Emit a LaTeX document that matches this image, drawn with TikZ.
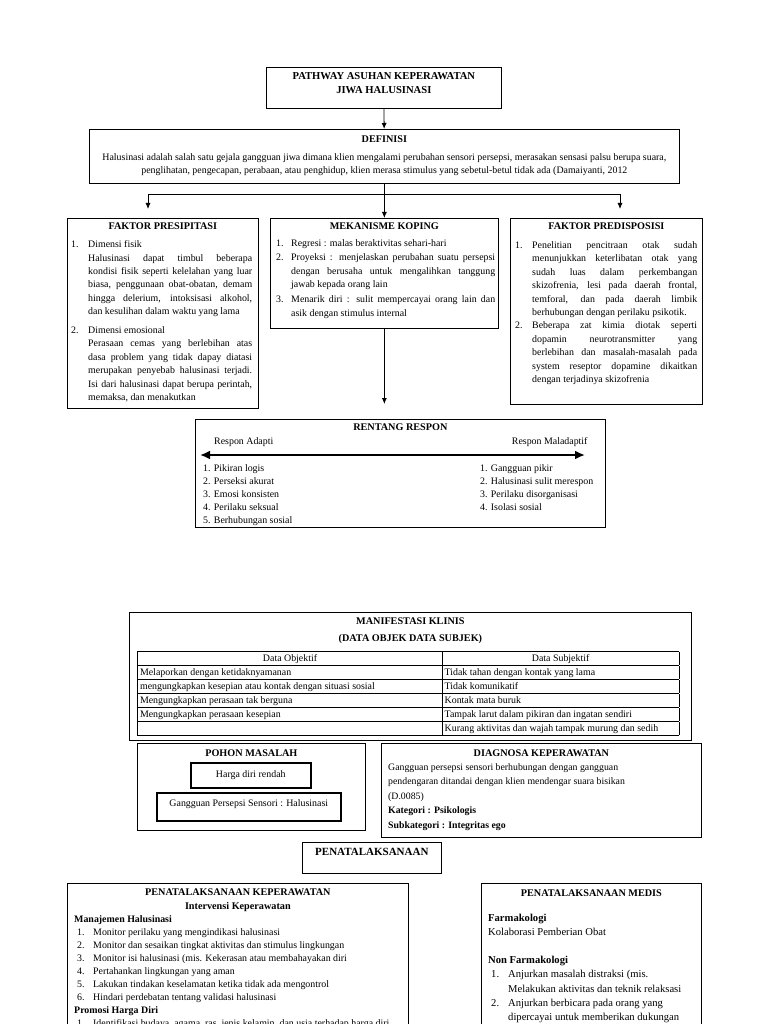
\documentclass[tikz,border=0pt]{standalone}
\usepackage{fontspec}
\setmainfont{Liberation Serif}
\usepackage{array}
\usetikzlibrary{positioning,arrows.meta}

\newcommand{\jl}[2]{\makebox[#1][s]{#2}}
\newcommand{\nm}[2][17pt]{\makebox[#1][l]{#2}}

\begin{document}
\begin{tikzpicture}[x=1pt, y=-1pt, font=\fontsize{9.9}{13.4}\selectfont,
    box/.style={draw, line width=0.7pt, inner sep=0pt, anchor=north west},
    hd/.style={font=\fontsize{10.2}{14}\selectfont\bfseries, inner sep=0pt, align=center},
    txt/.style={inner sep=0pt, align=left},
    arr/.style={-{Latex[length=6pt,width=5pt]}, line width=0.8pt}]
    \clip (0,0) rectangle (768,1024);

    % frames
    \node[box, minimum width=235, minimum height=41] (title) at (266,67) {};
    \node[box, minimum width=590, minimum height=54] (def) at (89,129) {};
    \node[box, minimum width=191, minimum height=190] (presip) at (67,218) {};
    \node[box, minimum width=228, minimum height=110] (koping) at (270,218) {};
    \node[box, minimum width=192, minimum height=186] (predis) at (510,218) {};
    \node[box, minimum width=410, minimum height=108] (rentang) at (195,419) {};
    \node[box, minimum width=562, minimum height=128] (manif) at (129,612) {};
    \node[box, minimum width=228, minimum height=87] (pohon) at (137,743) {};
    \node[box, minimum width=320, minimum height=94] (diag) at (381,743) {};
    \node[box, minimum width=139, minimum height=31] (penat) at (302,842) {};
    \node[box, minimum width=341, minimum height=200] (kep) at (67,883) {};
    \node[box, minimum width=220, minimum height=200] (medis) at (481,883) {};

    % titles
    \node[hd, font=\fontsize{10.6}{14}\selectfont\bfseries, below=5pt of title.north] (title-t) {PATHWAY ASUHAN KEPERAWATAN\\JIWA HALUSINASI};
    \node[hd, below=7pt of def.north] (def-h) {DEFINISI};
    \node[hd, below=5pt of presip.north] (presip-h) {FAKTOR PRESIPITASI};
    \node[hd, below=5pt of koping.north] (koping-h) {MEKANISME KOPING};
    \node[hd, below=5pt of predis.north] (predis-h) {FAKTOR PREDISPOSISI};
    \node[hd, below=5pt of rentang.north] (rentang-h) {RENTANG RESPON};
    \node[hd, font=\fontsize{10.2}{17}\selectfont\bfseries, below=5.5pt of manif.north] (manif-h) {MANIFESTASI KLINIS\\(DATA OBJEK DATA SUBJEK)};
    \node[hd, below=6.5pt of pohon.north] (pohon-h) {POHON MASALAH};
    \node[hd, below=6.5pt of diag.north] (diag-h) {DIAGNOSA KEPERAWATAN};
    \node[hd, font=\fontsize{11}{13}\selectfont\bfseries, below=6pt of penat.north] (penat-h) {PENATALAKSANAAN};
    \node[hd, below=5.5pt of kep.north] (kep-h) {PENATALAKSANAAN KEPERAWATAN\\Intervensi Keperawatan};
    \node[hd, below=6.5pt of medis.north] (medis-h) {PENATALAKSANAAN MEDIS};

    % texts
    \node[txt, align=center, below=10pt of def-h] (def-t) {Halusinasi adalah salah satu gejala gangguan jiwa dimana klien mengalami perubahan sensori persepsi, merasakan sensasi palsu berupa suara,\\
        penglihatan, pengecapan, perabaan, atau penghidup, klien merasa stimulus yang sebetul-betul tidak ada (Damaiyanti, 2012};

    \node[txt, below right=22.5pt and 4pt of presip.north west] (presip-t) {\nm{1.}Dimensi fisik\\
        \nm{}\jl{164pt}{Halusinasi dapat timbul beberapa}\\
        \nm{}\jl{164pt}{kondisi fisik seperti kelelahan yang luar}\\
        \nm{}\jl{164pt}{biasa, penggunaan obat-obatan, demam}\\
        \nm{}\jl{164pt}{hingga delerium, intoksisasi alkohol,}\\
        \nm{}dan kesulihan dalam waktu yang lama\\[5.5pt]
        \nm{2.}Dimensi emosional\\
        \nm{}\jl{164pt}{Perasaan cemas yang berlebihan atas}\\
        \nm{}\jl{164pt}{dasa problem yang tidak dapay diatasi}\\
        \nm{}\jl{164pt}{merupakan penyebab halusinasi terjadi.}\\
        \nm{}\jl{164pt}{Isi dari halusinasi dapat berupa perintah,}\\
        \nm{}memaksa, dan menakutkan};

    \node[txt, below right=21.5pt and 6pt of koping.north west] (koping-t) {\nm[15pt]{1.}Regresi : malas beraktivitas sehari-hari\\[1pt]
        \nm[15pt]{2.}\jl{204pt}{Proyeksi : menjelaskan perubahan suatu persepsi}\\
        \nm[15pt]{}\jl{204pt}{dengan berusaha untuk mengalihkan tanggung}\\
        \nm[15pt]{}jawab kepada orang lain\\[1.5pt]
        \nm[15pt]{3.}\jl{204pt}{Menarik diri : sulit mempercayai orang lain dan}\\
        \nm[15pt]{}asik dengan stimulus internal};

    \node[txt, below right=23.5pt and 5pt of predis.north west] (predis-t) {\nm{1.}\jl{165pt}{Penelitian pencitraan otak sudah}\\
        \nm{}\jl{165pt}{menunjukkan keterlibatan otak yang}\\
        \nm{}\jl{165pt}{sudah luas dalam perkembangan}\\
        \nm{}\jl{165pt}{skizofrenia, lesi pada daerah frontal,}\\
        \nm{}\jl{165pt}{temforal, dan pada daerah limbik}\\
        \nm{}berhubungan dengan perilaku psikotik.\\
        \nm{2.}\jl{165pt}{Beberapa zat kimia diotak seperti}\\
        \nm{}\jl{165pt}{dopamin neurotransmitter yang}\\
        \nm{}\jl{165pt}{berlebihan dan masalah-masalah pada}\\
        \nm{}\jl{165pt}{system reseptor dopamine dikaitkan}\\
        \nm{}dengan terjadinya skizofrenia};

    % rentang respon
    \node[txt, below right=18pt and 19pt of rentang.north west] (adapt) {Respon Adapti};
    \node[txt, below left=18pt and 18pt of rentang.north east] (maladapt) {Respon Maladaptif};
    \coordinate (ra-l) at (200,455);
    \coordinate (ra-r) at (585,455);
    \draw[{Latex[length=10pt,width=9pt]}-{Latex[length=10pt,width=9pt]}, line width=2.6pt] (ra-l) -- (ra-r);
    \node[txt, font=\fontsize{9.9}{13}\selectfont, below right=45pt and 8pt of rentang.north west] (adapt-t) {1. Pikiran logis\\2. Perseksi akurat\\3. Emosi konsisten\\4. Perilaku seksual\\5. Berhubungan sosial};
    \node[txt, font=\fontsize{9.9}{13}\selectfont, below right=45pt and 285pt of rentang.north west] (maladapt-t) {1. Gangguan pikir\\2. Halusinasi sulit merespon\\3. Perilaku disorganisasi\\4. Isolasi sosial};

    % manifestasi klinis
    \node[inner sep=0pt, below=39pt of manif.north, xshift=-2pt] (manif-tbl) {\setlength\tabcolsep{2pt}\setlength\arrayrulewidth{0.6pt}\renewcommand\arraystretch{1.0}%
        \begin{tabular}{|p{300pt}|p{232pt}|}\hline
        \multicolumn{1}{|c|}{Data Objektif} & \multicolumn{1}{c|}{Data Subjektif}\\ \hline
        Melaporkan dengan ketidaknyamanan & Tidak tahan dengan kontak yang lama\\ \hline
        mengungkapkan kesepian atau kontak dengan situasi sosial & Tidak komunikatif\\ \hline
        Mengungkapkan perasaan tak berguna & Kontak mata buruk\\ \hline
        Mengungkapkan perasaan kesepian & Tampak larut dalam pikiran dan ingatan sendiri\\ \hline
         & Kurang aktivitas dan wajah tampak murung dan sedih\\ \hline
        \end{tabular}};

    % pohon masalah
    \node[box, line width=1.6pt, minimum width=120, minimum height=25] (harga) at (190,762) {Harga diri rendah};
    \node[box, line width=1.6pt, minimum width=184, minimum height=28, text depth=8pt] (gangguan) at (156,792) {Gangguan Persepsi Sensori : Halusinasi};

    \node[txt, font=\fontsize{9.8}{14.5}\selectfont, below right=20pt and 7pt of diag.north west] (diag-t) {Gangguan persepsi sensori berhubungan dengan gangguan\\
        pendengaran ditandai dengan klien mendengar suara bisikan\\
        (D.0085)\\
        \textbf{Kategori : Psikologis}\\
        \textbf{Subkategori : Integritas ego}};

    % penatalaksanaan
    \node[txt, font=\fontsize{9.9}{13.1}\selectfont, below right=32pt and 7pt of kep.north west] (kep-t) {\textbf{Manajemen Halusinasi}\\
        \hspace*{3pt}\nm[16pt]{1.}Monitor perilaku yang mengindikasi halusinasi\\
        \hspace*{3pt}\nm[16pt]{2.}Monitor dan sesaikan tingkat aktivitas dan stimulus lingkungan\\
        \hspace*{3pt}\nm[16pt]{3.}Monitor isi halusinasi (mis. Kekerasan atau membahayakan diri\\
        \hspace*{3pt}\nm[16pt]{4.}Pertahankan lingkungan yang aman\\
        \hspace*{3pt}\nm[16pt]{5.}Lakukan tindakan keselamatan ketika tidak ada mengontrol\\
        \hspace*{3pt}\nm[16pt]{6.}Hindari perdebatan tentang validasi halusinasi\\
        \textbf{Promosi Harga Diri}\\
        \hspace*{3pt}\nm[16pt]{1.}Identifikasi budaya, agama, ras, jenis kelamin, dan usia terhadap harga diri};

    \node[txt, font=\fontsize{10.6}{14.4}\selectfont, below right=31pt and 7pt of medis.north west] (medis-t) {\textbf{Farmakologi}\\
        Kolaborasi Pemberian Obat\\[13pt]
        \textbf{Non Farmakologi}\\
        \hspace*{3pt}\nm{1.}Anjurkan masalah distraksi (mis.\\
        \hspace*{3pt}\nm{}Melakukan aktivitas dan teknik relaksasi\\
        \hspace*{3pt}\nm{2.}Anjurkan berbicara pada orang yang\\
        \hspace*{3pt}\nm{}dipercayai untuk memberikan dukungan};

    % connectors
    \coordinate (bl) at (148,194);
    \coordinate (br) at (620,194);
    \coordinate (bl-end) at (148,209);
    \coordinate (br-end) at (620,209);
    \draw[arr] (title) -- (def);
    \draw[line width=0.8pt] (def.south) -- (def.south |- bl);
    \draw[line width=0.8pt] (bl) -- (br);
    \draw[arr] (def.south |- bl) -- (koping.north);
    \draw[arr] (bl) -- (bl-end);
    \draw[arr] (br) -- (br-end);
    \draw[arr, shorten >=15pt] (koping.south) -- (koping.south |- rentang.north);
\end{tikzpicture}
\end{document}
